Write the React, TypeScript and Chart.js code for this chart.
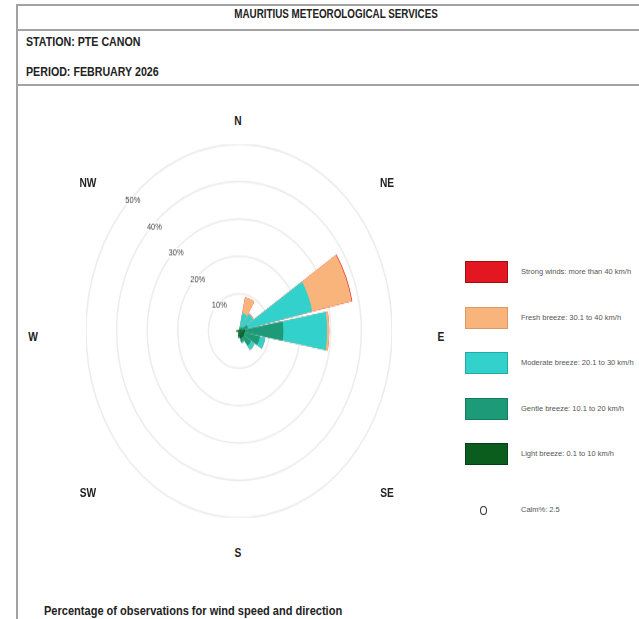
import React, { useEffect, useRef } from "react";
import { Chart, registerables } from "chart.js";

Chart.register(...registerables);

// ---- data ----
const directions = ["N", "NNE", "NE", "ENE", "E", "ESE", "SE", "SSE", "S", "SSW", "SW", "WSW", "W", "WNW", "NW", "NNW"];
const lightBreeze = [0.3, 0.4, 0.6, 1.0, 2.0, 1.8, 2.0, 2.0, 1.5, 0.5, 0.3, 0.3, 0.8, 0.4, 0.3, 0.3];
const gentleBreeze = [0, 0.5, 0.8, 2.0, 12.5, 5.2, 2.8, 1.0, 0.3, 0, 0, 0, 0, 0, 0, 0];
const moderateBreeze = [0, 4.0, 4.2, 21.5, 14.3, 1.8, 1.4, 0.3, 0, 0, 0, 0, 0, 0, 0, 0];
const freshBreeze = [0, 4.4, 0.2, 13.2, 0.7, 0, 0, 0, 0, 0, 0, 0, 0, 0, 0, 0];
const strongWinds = [0, 0, 0, 0.2, 0, 0, 0, 0, 0, 0, 0, 0, 0, 0, 0, 0];
const ringTicks = [10, 20, 30, 40, 50];
const calmPercent = 2.5;
const speedLabels = [
  "Strong winds: more than 40 km/h",
  "Fresh breeze: 30.1 to 40 km/h",
  "Moderate breeze: 20.1 to 30 km/h",
  "Gentle breeze: 10.1 to 20 km/h",
  "Light breeze: 0.1 to 10 km/h",
];
const compassLabels = ["N", "NE", "E", "SE", "S", "SW", "W", "NW"];

// ---- styles ----
const speedColors = ["#e3171f", "#f9b47c", "#33d1cc", "#1d9a78", "#0b5d1e"];
const speedBorders = ["#9c1015", "#d99a66", "#22aaa6", "#157a5e", "#06401a"];
const compassPos: [number, number][] = [
  [238, 121], [387, 183], [441, 337], [387, 493], [238, 553], [88, 493], [33, 337], [88, 183],
];
const SECTOR = 20.5;
const GAP = 2;

const ringLabelPlugin = {
  id: "ringLabels",
  beforeDatasetsDraw(chart: any) {
    const s = chart.scales.r;
    const ctx = chart.ctx;
    ctx.save();
    ctx.font = "7.5px Arial, 'Liberation Sans', sans-serif";
    ctx.textAlign = "center";
    ctx.textBaseline = "middle";
    ringTicks.forEach((v) => {
      const d = s.getDistanceFromCenterForValue(v);
      const x = s.xCenter - d * Math.SQRT1_2 + 2;
      const y = s.yCenter - d * Math.SQRT1_2 + 1;
      const t = v + "%";
      const w = ctx.measureText(t).width;
      ctx.fillStyle = "#ffffff";
      ctx.fillRect(x - w / 2 - 1, y - 4, w + 2, 8);
      ctx.fillStyle = "#444";
      ctx.fillText(t, x, y);
    });
    ctx.restore();
  },
};

function RoseChart() {
  const ref = useRef<HTMLCanvasElement | null>(null);
  useEffect(() => {
    if (!ref.current) return;
    // cumulative stacking, bottom (light) to top (strong)
    const layers = [lightBreeze, gentleBreeze, moderateBreeze, freshBreeze, strongWinds];
    const cumulative: number[][] = [];
    layers.forEach((arr, k) => {
      cumulative.push(arr.map((v, i) => v + (k > 0 ? cumulative[k - 1][i] : 0)));
    });
    const labels: string[] = [];
    directions.forEach((d) => { labels.push(d); labels.push(""); });
    const colorIdx = [4, 3, 2, 1, 0];
    const datasets = cumulative.map((cum, k) => {
      const data: number[] = [];
      cum.forEach((v) => { data.push(v); data.push(0); });
      return {
        label: speedLabels[colorIdx[k]],
        data,
        backgroundColor: speedColors[colorIdx[k]],
        borderWidth: 0,
        angle: (ctx: any) => (ctx.dataIndex % 2 === 0 ? SECTOR : GAP),
      };
    });
    const chart = new Chart(ref.current, {
      type: "polarArea",
      data: { labels, datasets: datasets as any },
      options: {
        responsive: false,
        animation: false,
        layout: { padding: 0 },
        plugins: { legend: { display: false }, tooltip: { enabled: false } },
        scales: {
          r: {
            min: 0,
            max: 50,
            startAngle: -SECTOR / 2,
            ticks: { display: false, stepSize: 10 },
            grid: { color: "#ececec", lineWidth: 1.5, circular: true },
            angleLines: { display: false },
            pointLabels: { display: false },
          },
        },
      } as any,
      plugins: [ringLabelPlugin],
    });
    return () => chart.destroy();
  }, []);
  return <canvas ref={ref} width={306} height={306} style={{ width: 306, height: 306, display: "block" }} />;
}

const abs = (left: number, top: number, extra: React.CSSProperties = {}): React.CSSProperties => ({
  position: "absolute",
  left,
  top,
  ...extra,
});

export default function App() {
  const font = "Arial, 'Liberation Sans', Helvetica, sans-serif";
  const lineColor = "#a3a3a3";
  return (
    <div style={{ position: "absolute", left: 0, top: 0, width: 639, height: 619, overflow: "hidden", background: "#fff", fontFamily: font }}>
      {/* frame */}
      <div style={abs(16, 4, { width: 623, height: 2, background: lineColor })} />
      <div style={abs(16, 29, { width: 623, height: 2, background: lineColor })} />
      <div style={abs(16, 84, { width: 623, height: 2, background: lineColor })} />
      <div style={abs(16, 4, { width: 2, height: 615, background: lineColor })} />

      {/* header */}
      <div style={abs(336, 14, { transform: "translate(-50%,-50%) scaleX(0.82)", fontWeight: "bold", fontSize: 12, color: "#222", whiteSpace: "nowrap", lineHeight: "14px" })}>
        MAURITIUS METEOROLOGICAL SERVICES
      </div>
      <div style={abs(26, 35, { transform: "scaleX(0.82)", transformOrigin: "left center", fontWeight: "bold", fontSize: 13, color: "#222", whiteSpace: "nowrap", lineHeight: "14px" })}>
        STATION: PTE CANON
      </div>
      <div style={abs(26, 65, { transform: "scaleX(0.82)", transformOrigin: "left center", fontWeight: "bold", fontSize: 13, color: "#222", whiteSpace: "nowrap", lineHeight: "14px" })}>
        PERIOD: FEBRUARY 2026
      </div>

      {/* rose */}
      <div style={abs(86, 178, { width: 306, height: 306, transform: "scaleY(1.22)", transformOrigin: "153px 153px" })}>
        <RoseChart />
      </div>

      {/* compass labels */}
      {compassLabels.map((t, i) => (
        <div key={t} style={abs(compassPos[i][0], compassPos[i][1], { transform: "translate(-50%,-50%) scaleX(0.85)", fontWeight: "bold", fontSize: 12, color: "#222", lineHeight: "14px" })}>
          {t}
        </div>
      ))}

      {/* legend */}
      {speedLabels.map((t, i) => (
        <React.Fragment key={t}>
          <div style={abs(465, 261 + i * 45.5, { width: 41, height: 20, background: speedColors[i], border: `1px solid ${speedBorders[i]}` })} />
          <div style={abs(521, 272 + i * 45.5, { transform: "translateY(-50%)", fontSize: 7.5, color: "#555", whiteSpace: "nowrap", lineHeight: "10px" })}>
            {t}
          </div>
        </React.Fragment>
      ))}
      <div style={abs(480, 506, { width: 5, height: 7, border: "1.5px solid #333", borderRadius: "50%" })} />
      <div style={abs(521, 510, { transform: "translateY(-50%)", fontSize: 7.5, color: "#555", whiteSpace: "nowrap", lineHeight: "10px" })}>
        Calm%: {calmPercent}
      </div>

      {/* footer */}
      <div style={abs(44, 604, { transform: "scaleX(0.92)", transformOrigin: "left center", fontWeight: "bold", fontSize: 12, color: "#222", whiteSpace: "nowrap", lineHeight: "14px" })}>
        Percentage of observations for wind speed and direction
      </div>
    </div>
  );
}
